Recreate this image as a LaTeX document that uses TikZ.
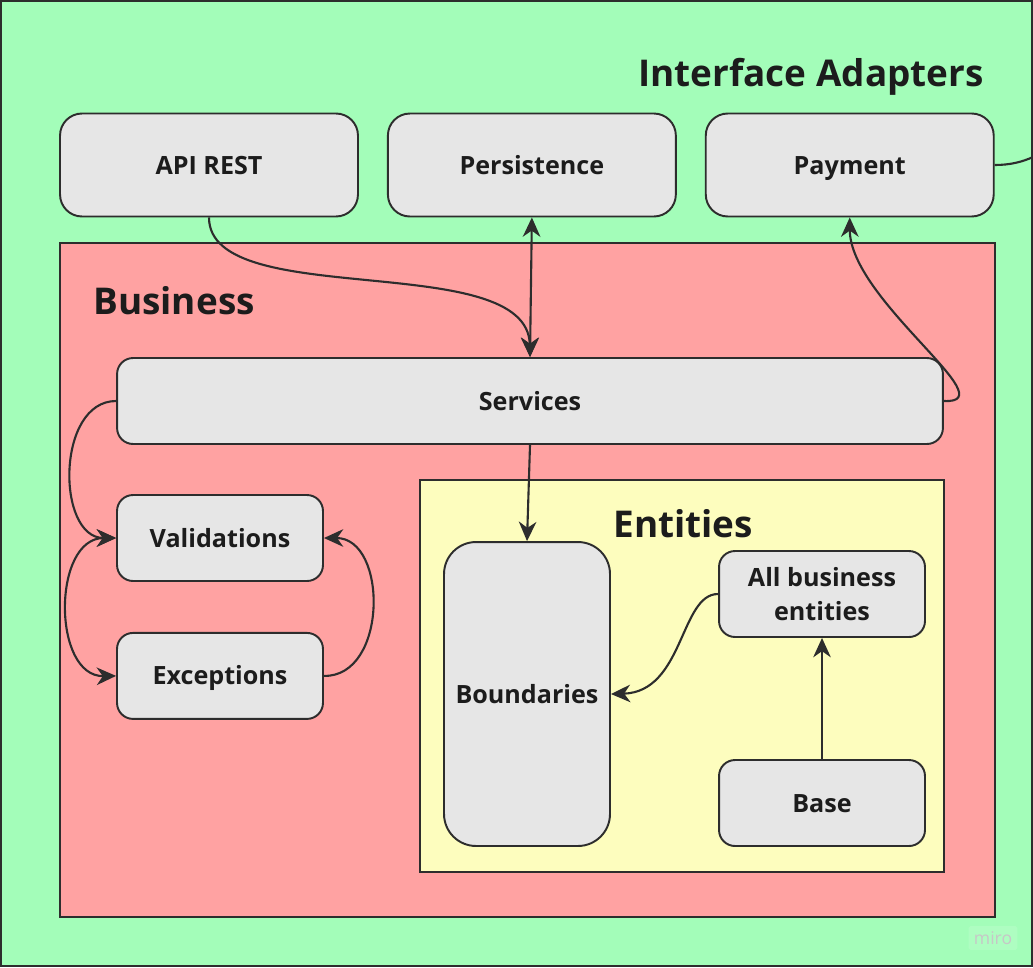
\documentclass[tikz,border=0pt]{standalone}
\usepackage{fontspec}
\setmainfont{Open Sans}
\usepackage{tikz}
\usetikzlibrary{arrows.meta,positioning}
\definecolor{layergreen}{RGB}{163,253,185}
\definecolor{layerred}{RGB}{255,162,162}
\definecolor{layeryellow}{RGB}{253,253,190}
\definecolor{boxgray}{RGB}{230,230,230}
\definecolor{linedark}{RGB}{45,45,45}
\definecolor{textdark}{RGB}{28,28,28}

\begin{document}
\begin{tikzpicture}[
    x=0.02cm, y=-0.02cm,
    layer/.style={rectangle, draw=linedark, line width=1pt},
    box/.style={rectangle, draw=linedark, fill=boxgray, line width=1.1pt, rounded corners=0.32cm, align=center, inner sep=0pt, text=textdark, font=\fontsize{14.3}{19}\selectfont\bfseries, minimum width=4.12cm, minimum height=1.72cm},
    oneline/.style={text height=10.3pt, text depth=0pt},
    title/.style={text=textdark, font=\fontsize{21}{25}\selectfont\bfseries, inner sep=0pt},
    tip/.tip={Stealth[length=11pt, width=10pt, inset=3.5pt]},
    arrow/.style={-tip, line width=1.2pt, draw=linedark},
    twoway/.style={tip-tip, line width=1.2pt, draw=linedark},
    link/.style={line width=1.2pt, draw=linedark}
]
    \useasboundingbox (0,0) rectangle (1033,967);
    % layers
    \draw[layer, fill=layergreen] (1,1) rectangle (1032,966);
    \draw[layer, fill=layerred] (60,243) rectangle (995,917);
    \draw[layer, fill=layeryellow] (420,480) rectangle (944,872);

    \node[title, anchor=east] (adapterstitle) at (984,77) {Interface Adapters};
    \node[title, anchor=west] (businesstitle) at (93,301) {Business};
    \node[title, anchor=west] (entitiestitle) at (613,524) {Entities};

    % interface adapters
    \node[box, oneline, rounded corners=0.44cm, minimum width=5.96cm, minimum height=2.06cm] (api) at (209,165) {API REST};
    \node[box, oneline, rounded corners=0.44cm, minimum width=5.76cm, minimum height=2.06cm, right=0.56cm of api] (persistence) {Persistence};
    \node[box, oneline, rounded corners=0.44cm, minimum width=5.76cm, minimum height=2.06cm, right=0.56cm of persistence] (payment) {Payment};
    \coordinate (offright) at (1033,157);

    % business
    \node[box, oneline, minimum width=16.52cm] (services) at (530,401) {Services};
    \node[box, oneline] (validations) at (220,538) {Validations};
    \node[box, oneline, below=1.0cm of validations] (exceptions) {Exceptions};

    % entities
    \node[box, oneline, rounded corners=0.64cm, minimum width=3.32cm, minimum height=6.08cm] (boundaries) at (527,694) {Boundaries};
    \node[box] (allentities) at (822,594) {All business\\entities};
    \node[box, oneline] (base) at (822,803) {Base};

    \node[text=black!22, fill=white, fill opacity=0.12, text opacity=1, rounded corners=1pt, inner sep=3pt, font=\fontsize{10}{12}\selectfont] (miro) at (993,938) {miro};

    \draw[arrow] (api.south) .. controls (209,312) and (528,248) .. (services.north);
    \draw[twoway] (persistence.south) -- (services.north);
    \draw[arrow] (services.east) .. controls (1008,404) and (850,300) .. (payment.south);
    \draw[link] (payment.east) .. controls (1010,165) and (1022,162) .. (offright);
    \draw[arrow] (services.south) -- (boundaries.north);
    \draw[arrow] (services.west) .. controls (56,401) and (56,538) .. (validations.west);
    \draw[twoway] (validations.west) .. controls (52,538) and (52,677) .. (exceptions.west);
    \draw[arrow] (exceptions.east) .. controls (388,677) and (388,538) .. (validations.east);
    \draw[arrow] (allentities.west) .. controls (680,594) and (684,692) .. (boundaries.east);
    \draw[arrow] (base.north) -- (allentities.south);
\end{tikzpicture}
\end{document}
